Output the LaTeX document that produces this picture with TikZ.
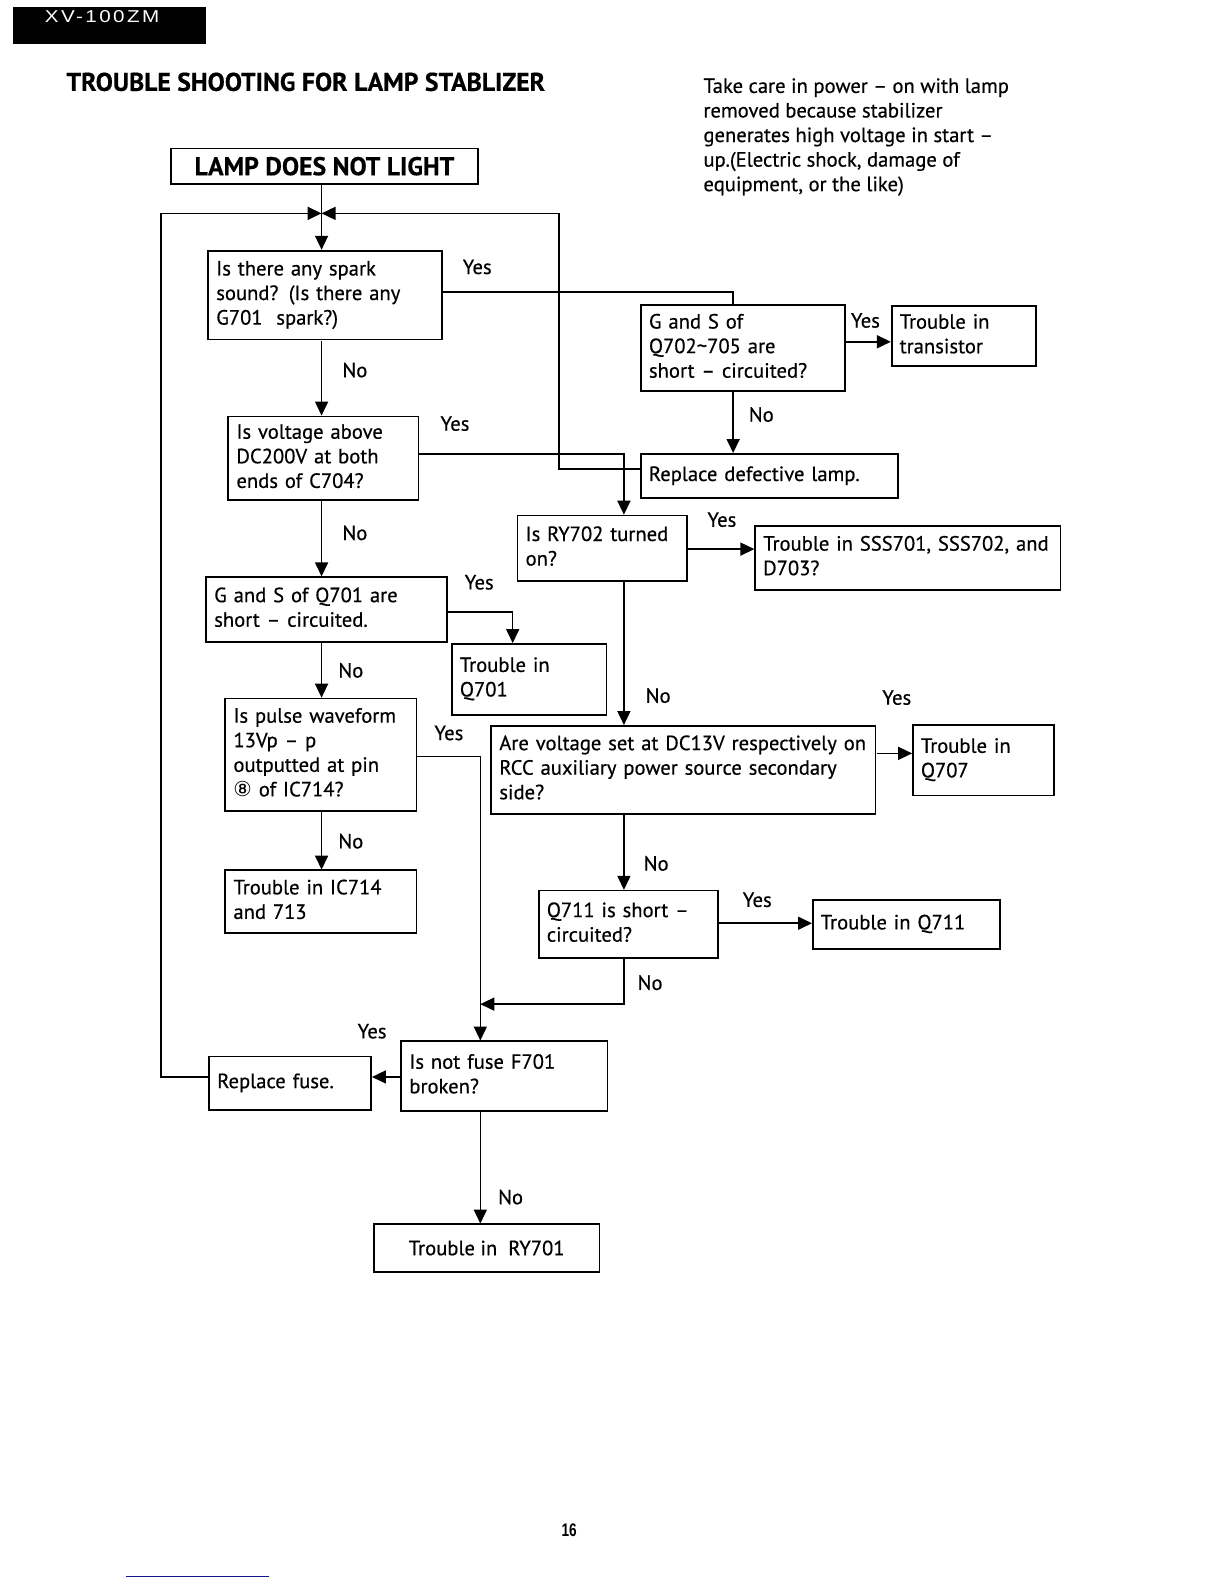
\documentclass[tikz,border=0pt]{standalone}
\usepackage{fontspec}
\usepackage{graphicx}
\setmainfont[FakeBold=0.5]{PT Sans}
\newfontfamily\hdrfont[FakeStretch=1.2,LetterSpace=14]{Liberation Sans}
\newfontfamily\symfont{DejaVu Sans}
\newfontfamily\numfont{Liberation Sans}
\usetikzlibrary{arrows.meta}
\definecolor{scanblue}{RGB}{20,20,140}
\newcommand\bodyfont{\fontsize{20.4}{24.3}\selectfont}
\newcommand\bx[6]{%
  \pgfmathsetmacro\bxw{#4}\pgfmathsetmacro\bxh{#5}\pgfmathsetmacro\bxt{#4-16}%
  \node[box, minimum width=\bxw pt, minimum height=\bxh pt, text width=\bxt pt] (#1) at (#2,#3)
    {\begin{tabular}{@{}l@{}}#6\end{tabular}};}
\tikzset{
  box/.style={draw, line width=1.8pt, anchor=north west, inner xsep=8pt, inner ysep=0pt, align=left, font=\bodyfont},
  lbl/.style={font=\bodyfont, inner sep=0pt},
  arr/.style={-{Triangle[length=14pt,width=13pt]}},
  every node/.append style={transform shape}
}
\begin{document}
\begin{tikzpicture}[x=1pt, y=-1pt, scale=1.011, line width=1.6pt]
\useasboundingbox (0,0) rectangle (1210.68,1566.77);
% header
\node[fill=black, minimum width=191pt, minimum height=37pt, anchor=north west, inner sep=0pt] (hdr) at (12,6) {};
\node[text=white, font=\hdrfont\fontsize{17}{19}\selectfont, inner sep=0pt] (hdrtxt) at (101,16) {XV-100ZM};
\node[anchor=west, inner sep=0pt, font=\fontsize{25.4}{29}\selectfont\bfseries] (title) at (65,81) {TROUBLE SHOOTING FOR LAMP STABLIZER};
\node[anchor=west, inner sep=0pt, align=left, font=\bodyfont] (note) at (695,135.5)
  {Take care in power -- on with lamp\\removed because stabilizer\\generates high voltage in start --\\up.(Electric shock, damage of\\equipment, or the like)};
% boxes
\node[box, minimum width=304pt, minimum height=35pt, inner xsep=0pt, align=center, font=\fontsize{25.4}{29}\selectfont\bfseries] (start) at (168,146) {LAMP DOES NOT LIGHT};
\bx{spark}{205}{247}{231}{88}{Is there any spark\\sound? (Is there any\\G701\ \ spark?)}
\bx{gstwo}{633}{301}{202}{85}{G and S of\\Q702\textasciitilde705 are\\short -- circuited?}
\bx{trans}{881}{302}{143}{59}{Trouble in\\transistor}
\bx{lamp}{633}{448}{254}{44}{Replace defective lamp.}
\bx{volt}{225}{411}{188}{83}{Is voltage above\\DC200V at both\\ends of C704?}
\bx{ryb}{511}{509}{168}{65}{Is RY702 turned\\on?}
\bx{sss}{746}{519}{302}{64}{Trouble in SSS701, SSS702, and\\D703?}
\bx{gsone}{203}{570}{238}{64}{G and S of Q701 are\\short -- circuited.}
\bx{qa}{446}{636}{153}{70}{Trouble in\\Q701}
\bx{pulse}{222}{690}{189}{111}{Is pulse waveform\\13Vp -- p\\outputted at pin\\{\symfont ⑧} of IC714?}
\bx{rcc}{485}{717}{380}{87}{Are voltage set at DC13V respectively on\\RCC auxiliary power source secondary\\side?}
\bx{qb}{902}{716}{140}{70}{Trouble in\\Q707}
\bx{ic}{222}{860}{189}{62}{Trouble in IC714\\and 713}
\bx{qc}{532}{880}{177}{67}{Q711 is short --\\circuited?}
\bx{qd}{803}{889}{185}{49}{Trouble in Q711}
\bx{fuse}{396}{1029}{204}{69}{Is not fuse F701\\broken?}
\bx{rfuse}{206}{1044}{160}{53}{Replace fuse.}
\node[box, minimum width=223pt, minimum height=47pt, align=center] (rya) at (369,1210) {Trouble in\ \ RY701};
% helper coordinates
\coordinate (junc) at (318,211);
\coordinate (loopL) at (159,211);
\coordinate (loopR) at (553,211);
\coordinate (colA) at (318,0);
\coordinate (colB) at (617,0);
\coordinate (colC) at (475,0);
\coordinate (colD) at (725,0);
\coordinate (colE) at (507,0);
\coordinate (mergeP) at (475,993);
\coordinate (sparkY) at (0,289);
\coordinate (gstwoY) at (0,338);
\coordinate (voltY) at (0,449);
\coordinate (lampY) at (0,464);
\coordinate (rybY) at (0,543);
\coordinate (gsoneY) at (0,605);
\coordinate (rccY) at (0,745);
\coordinate (pulseY) at (0,748);
\coordinate (qcY) at (0,913);
\coordinate (fuseY) at (0,1065);
% connectors
\draw (start.south -| colA) -- (junc);
\draw[arr] (junc) -- (spark.north -| colA);
\draw[arr] (rfuse.west |- fuseY) -| (loopL) -- (junc);
\draw[arr] (lamp.west |- lampY) -| (loopR) -- (junc);
\draw[arr] (spark.south -| colA) -- (volt.north -| colA);
\draw (spark.east |- sparkY) -| (gstwo.north -| colD);
\draw[arr] (gstwo.east |- gstwoY) -- (trans.west |- gstwoY);
\draw[arr] (gstwo.south -| colD) -- (lamp.north -| colD);
\draw[arr] (volt.east |- voltY) -| (ryb.north -| colB);
\draw[arr] (ryb.east |- rybY) -- (sss.west |- rybY);
\draw[arr] (ryb.south -| colB) -- (rcc.north -| colB);
\draw[arr] (volt.south -| colA) -- (gsone.north -| colA);
\draw[arr] (gsone.east |- gsoneY) -| (qa.north -| colE);
\draw[arr] (gsone.south -| colA) -- (pulse.north -| colA);
\draw[arr] (pulse.east |- pulseY) -| (fuse.north -| colC);
\draw[arr] (pulse.south -| colA) -- (ic.north -| colA);
\draw[arr] (rcc.east |- rccY) -- (qb.west |- rccY);
\draw[arr] (rcc.south -| colB) -- (qc.north -| colB);
\draw[arr] (qc.east |- qcY) -- (qd.west |- qcY);
\draw[arr] (qc.south -| colB) |- (mergeP);
\draw[arr] (fuse.west |- fuseY) -- (rfuse.east |- fuseY);
\draw[arr] (fuse.south -| colC) -- (rya.north -| colC);
% labels
\node[lbl] (l1) at (472,264) {Yes};
\node[lbl] (l2) at (351,366) {No};
\node[lbl] (l3) at (856,317) {Yes};
\node[lbl] (l4) at (753,410) {No};
\node[lbl] (l5) at (450,419) {Yes};
\node[lbl] (l6) at (714,514) {Yes};
\node[lbl] (l7) at (351,527) {No};
\node[lbl] (l8) at (474,576) {Yes};
\node[lbl] (l9) at (347,663) {No};
\node[lbl] (l10) at (651,688) {No};
\node[lbl] (l11) at (887,690) {Yes};
\node[lbl] (l12) at (444,725) {Yes};
\node[lbl] (l13) at (347,832) {No};
\node[lbl] (l14) at (649,854) {No};
\node[lbl] (l15) at (749,890) {Yes};
\node[lbl] (l16) at (643,972) {No};
\node[lbl] (l17) at (368,1020) {Yes};
\node[lbl] (l18) at (505,1184) {No};
% page number and scan mark
\node[inner sep=0pt, font=\numfont\bfseries\fontsize{18}{20}\selectfont] (pg) at (563,1514) {\scalebox{0.75}[1]{16}};
\draw[scanblue, line width=1.2pt] (125,1559) -- (266,1559);
\end{tikzpicture}
\end{document}
